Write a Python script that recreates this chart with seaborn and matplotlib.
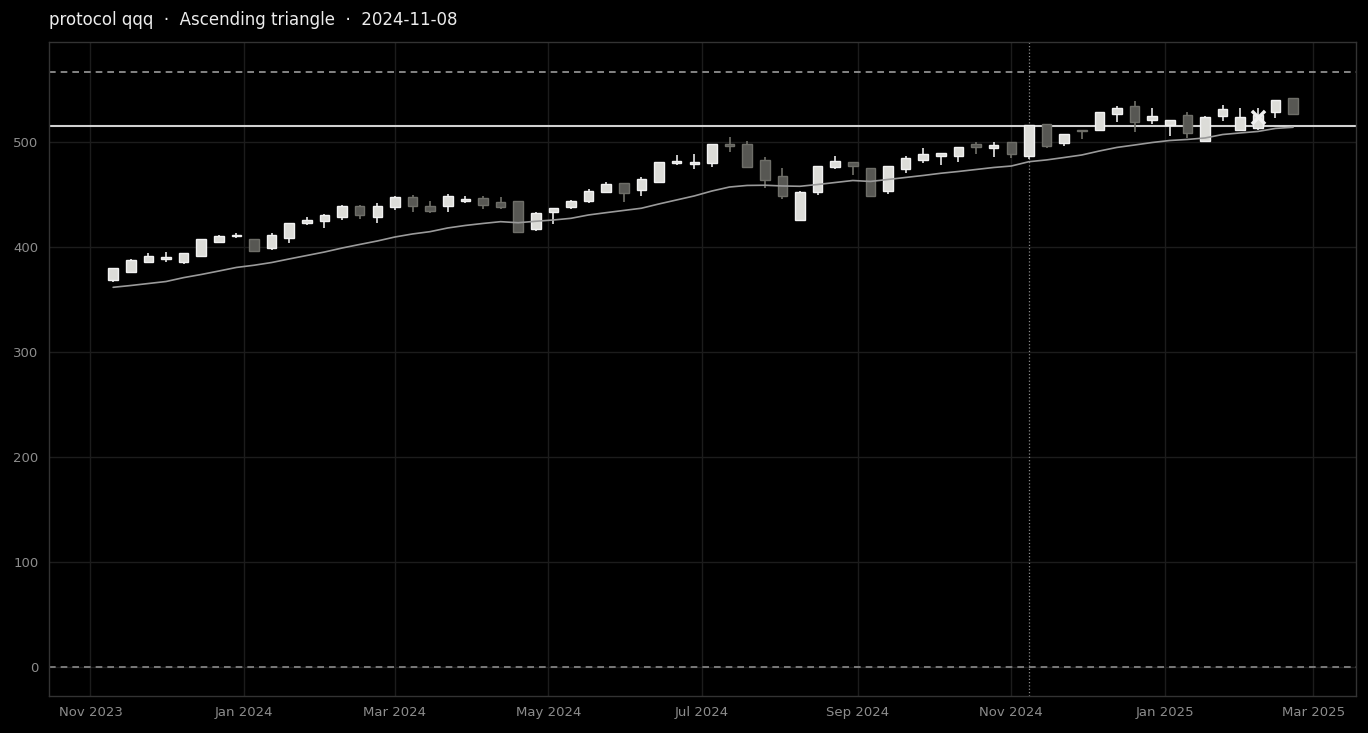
import matplotlib
matplotlib.use('Agg')
import matplotlib.pyplot as plt
import matplotlib.dates as mdates
import seaborn as sns
import pandas as pd

sns.set_style('dark')
plt.rcParams['font.family'] = ['DejaVu Sans']

# weekly candles, Fridays from 2023-11-10
start_date = '2023-11-10'
opens = [369, 376.5, 386, 389, 386, 391.7, 405, 410.5, 407.3, 398.7, 408.9,
         423.2, 424.5, 428.9, 438.7, 428.9, 437.8, 447.3, 438.7, 439.3, 444, 446.4,
         442.9, 443.5, 417.4, 433.6, 437.8, 444.1, 452.7, 460.6, 454.6, 462.2, 479.7,
         478.7, 480.3, 498.1, 497.8, 482.6, 467.3, 425.4, 452.1, 476, 480.7, 474.9,
         453.6, 474, 483.1, 486.7, 486.4, 498.1, 494, 500, 487, 516.9, 498.7,
         511.4, 511.4, 526.4, 534.6, 520.7, 515.9, 525.4, 501.2, 525, 511.4, 513.6,
         528.3, 541.6]
highs = [380, 388.3, 394, 395, 394.5, 408, 411.4, 413.3, 408, 413, 423,
         428.9, 431, 439.5, 439.5, 441.6, 448.6, 449.5, 444, 450.5, 448.6, 448.6,
         447.3, 443.5, 433.3, 436.8, 444.8, 455, 461.9, 460.6, 466.4, 481, 487.6,
         488.3, 498, 504.4, 501.2, 485.4, 475.5, 453, 477, 486.4, 480.7, 475,
         477, 487, 494, 489.5, 495.5, 499.7, 500.3, 500, 516.2, 517, 507.5,
         511.6, 528.3, 534.3, 539.3, 532.1, 520.7, 528.3, 525, 535, 532.1, 532.7,
         539.7, 542]
lows = [367, 375.5, 385.5, 386, 383.5, 391, 403.5, 408.3, 395, 397, 403.5,
        421, 417.8, 425.4, 426.4, 422.6, 435.2, 433.6, 432.7, 433.6, 441.6, 435.9,
        436.5, 413.6, 415.2, 421.6, 436.5, 442.2, 451.7, 443.1, 448.6, 461, 478,
        474, 476.5, 490.8, 474.9, 455.9, 445.4, 424.8, 449.2, 474, 468.3, 448,
        450.5, 470, 480.3, 478, 481.2, 488.6, 485.4, 484.5, 483.8, 494.6, 496.5,
        502.5, 510.5, 519.3, 509.8, 517, 506, 504, 500, 520.3, 511.4, 511.4,
        522.6, 526]
closes = [380, 387.3, 391, 390.7, 394, 407.3, 410.2, 411.7, 396, 411.4, 422.5,
          425.4, 430.5, 438.7, 430.8, 438.7, 447.3, 439.3, 434.6, 448.9, 445.4, 440.3,
          438.4, 414.6, 432.1, 436.8, 443.8, 453.3, 460, 451.1, 464.4, 480.7, 481.6,
          481.2, 497.8, 496.2, 475.9, 463.5, 448.9, 452.1, 476.8, 481.6, 477.4, 448.9,
          476.8, 484.5, 488.3, 489.2, 495, 495, 497.1, 488.3, 516.2, 496.5, 507.3,
          510, 528.3, 532.1, 519.3, 524.5, 520.7, 508.3, 523.5, 531.1, 523.5, 525.7,
          539.7, 526.4]
ma_line = [361.6, 363.3, 365.2, 367.1, 370.8, 373.8, 377.1, 380.5, 382.6, 385.2, 388.6,
           391.9, 395.2, 399, 402.4, 405.7, 409.5, 412.4, 414.6, 418.1, 420.5, 422.4,
           424.1, 423.1, 424.5, 425.7, 427.3, 430.5, 432.7, 434.8, 436.9, 441, 444.8,
           448.6, 453.3, 457.1, 458.6, 458.8, 458.1, 457.8, 459.5, 461.4, 463.3, 462.4,
           464.3, 466.2, 468.1, 470.2, 471.9, 473.8, 475.7, 477.1, 481.2, 482.9, 485.2,
           487.6, 491.4, 494.8, 497.1, 499.5, 501.4, 502.4, 503.8, 507.1, 508.6, 510,
           512.9, 514]

resistance = 515.2
upper_level = 566.7
lower_level = 0
breakout_date = '2024-11-08'
marker_date = '2025-02-07'
marker_value = 523.5

df = pd.DataFrame({'open': opens, 'high': highs, 'low': lows,
                   'close': closes, 'ma': ma_line})
df['date'] = pd.date_range(start_date, periods=len(df), freq='7D')
df['up'] = df['close'] >= df['open']

fig = plt.figure(figsize=(13.68, 7.33), dpi=100, facecolor='black')
ax = fig.add_axes([0.0358, 0.0505, 0.9554, 0.8922])
ax.set_facecolor('black')

# candles
up = df[df['up']]
dn = df[~df['up']]
width = 3.8
ax.vlines(up['date'], up['low'], up['high'], color='#e6e6e6', lw=1.2, zorder=3)
ax.vlines(dn['date'], dn['low'], dn['high'], color='#707069', lw=1.2, zorder=3)
ax.bar(up['date'], up['close'] - up['open'], bottom=up['open'], width=width,
       color='#dcdcd8', edgecolor='#f2f2f2', linewidth=1, zorder=4)
ax.bar(dn['date'], dn['open'] - dn['close'], bottom=dn['close'], width=width,
       color='#575753', edgecolor='#6e6e68', linewidth=1, zorder=4)

# moving average
sns.lineplot(data=df, x='date', y='ma', ax=ax, color='#9a9a9a', lw=1.2, zorder=5)

# levels
ax.axhline(resistance, color='#d0d0d0', lw=1.5, zorder=2)
ax.axhline(upper_level, color='#9a9a9a', lw=1.2, ls=(0, (4, 3)), zorder=2)
ax.axhline(lower_level, color='#8a8a8a', lw=1.2, ls=(0, (4, 3)), zorder=2)
ax.axvline(pd.Timestamp(breakout_date), color='#8a8a8a', lw=0.9, ls=':', zorder=2)

ax.scatter([pd.Timestamp(marker_date)], [marker_value], marker='x', s=90,
           color='#f0f0f0', linewidths=2.5, zorder=6)

ax.set_xlim(pd.Timestamp('2023-10-15 12:00'), pd.Timestamp('2025-03-18'))
ax.set_ylim(-27.6, 595.2)
ax.xaxis.set_major_locator(mdates.MonthLocator(bymonth=[1, 3, 5, 7, 9, 11]))
ax.xaxis.set_major_formatter(mdates.DateFormatter('%b %Y'))
ax.set_yticks([0, 100, 200, 300, 400, 500])

ax.grid(True, color='#1c1c1c', lw=1)
ax.tick_params(colors='#8c8c8c', labelsize=9.5, length=4, color='#555555')
for s in ax.spines.values():
    s.set_color('#333333')
    s.set_linewidth(1)
ax.set_xlabel('')
ax.set_ylabel('')

fig.text(49 / 1368, 1 - 20 / 733, 'protocol qqq  ·  Ascending triangle  ·  2024-11-08',
         color='#ececec', fontsize=12, ha='left', va='center')

fig.savefig('out.png', dpi=100, facecolor='black')
